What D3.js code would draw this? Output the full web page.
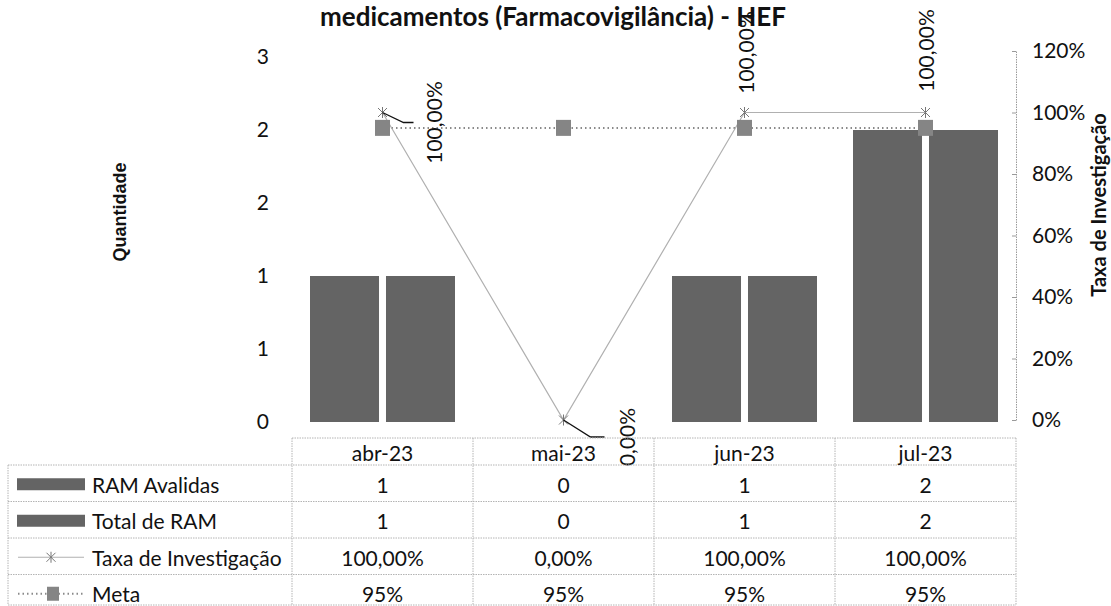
<!DOCTYPE html>
<html>
<head>
<meta charset="utf-8">
<script src="https://cdn.jsdelivr.net/npm/d3@7"></script>
<style>
  html, body { margin: 0; padding: 0; background: #fff; }
  svg { display: block; }
</style>
</head>
<body>
<svg id="chart" width="1111" height="606"></svg>
<script>
// ---------------- DATA ----------------
const categories = ["abr-23", "mai-23", "jun-23", "jul-23"];
const ramAvaliadas = [1, 0, 1, 2];
const totalRam = [1, 0, 1, 2];
const taxaInvestigacao = [1.0, 0.0, 1.0, 1.0];
const meta = [0.95, 0.95, 0.95, 0.95];
const seriesNames = ["RAM Avalidas", "Total de RAM", "Taxa de Investigação", "Meta"];
const leftTickValues = [0, 0.5, 1, 1.5, 2, 2.5];
const leftTickLabels = ["0", "1", "1", "2", "2", "3"];
const rightTickValues = [0, 0.2, 0.4, 0.6, 0.8, 1.0, 1.2];
const rightTickLabels = ["0%", "20%", "40%", "60%", "80%", "100%", "120%"];
const titleText = "medicamentos (Farmacovigilância) - HEF";
const leftAxisTitle = "Quantidade";
const rightAxisTitle = "Taxa de Investigação";

// ---------------- LAYOUT ----------------
const svg = d3.select("#chart");
const FONT = "Lato, 'Open Sans', sans-serif";
const FS = 21;
const plotLeft = 292, plotRight = 1016;
const barColor = "#646464";
const markerColor = "#858585";

const x0 = d3.scaleBand().domain(categories).range([plotLeft, plotRight]).padding(0);
const x1 = d3.scaleBand().domain([0, 1]).range([0, x0.bandwidth()])
  .paddingInner(0.092).paddingOuter(0.237);
const yL = d3.scaleLinear().domain([0, 2.5]).range([422, 57]);
const yR = d3.scaleLinear().domain([0, 1.2]).range([420, 51]);
const cx = c => x0(c) + x0.bandwidth() / 2;

// Title
svg.append("text").attr("x", 553).attr("y", 26)
  .attr("text-anchor", "middle").attr("font-family", FONT)
  .attr("font-weight", "bold").attr("font-size", 26).attr("fill", "#111")
  .text(titleText);

// Left axis (labels only)
const leftAxis = d3.axisLeft(yL).tickValues(leftTickValues)
  .tickFormat((d, i) => leftTickLabels[i]).tickSize(0).tickPadding(0);
const gL = svg.append("g").attr("transform", "translate(269,0)").call(leftAxis);
gL.select(".domain").remove();
gL.selectAll("text").attr("font-family", FONT).attr("font-size", FS).attr("fill", "#111");

// Right axis
const rightAxis = d3.axisRight(yR).tickValues(rightTickValues)
  .tickFormat((d, i) => rightTickLabels[i]).tickSizeInner(-4).tickSizeOuter(0).tickPadding(16);
const gR = svg.append("g").attr("transform", `translate(${plotRight},0)`).call(rightAxis);
gR.select(".domain").attr("stroke", "#9a9a9a").attr("stroke-dasharray", "1.5,1");
gR.selectAll(".tick line").attr("stroke", "#9a9a9a");
gR.selectAll("text").attr("font-family", FONT).attr("font-size", FS).attr("fill", "#111");

// Axis titles
svg.append("text").attr("transform", "translate(120,212) rotate(-90)")
  .attr("text-anchor", "middle").attr("dominant-baseline", "central")
  .attr("font-family", "'Liberation Sans', Arial, sans-serif").attr("font-weight", "bold")
  .attr("font-size", 18).attr("fill", "#111").text(leftAxisTitle);
svg.append("text").attr("transform", "translate(1098,205) rotate(-90)")
  .attr("text-anchor", "middle").attr("dominant-baseline", "central")
  .attr("font-family", FONT).attr("font-weight", "bold")
  .attr("font-size", 20).attr("fill", "#111").text(rightAxisTitle);

// Bars
const barSeries = [ramAvaliadas, totalRam];
barSeries.forEach((vals, si) => {
  svg.append("g").selectAll("rect").data(categories).join("rect")
    .attr("x", c => x0(c) + x1(si))
    .attr("width", x1.bandwidth())
    .attr("y", (c, i) => yL(vals[i]))
    .attr("height", (c, i) => yL(0) - yL(vals[i]))
    .attr("fill", barColor);
});

// Meta line (dotted)
const lineMeta = d3.line().x((d, i) => cx(categories[i])).y(d => yR(d));
svg.append("path").datum(meta).attr("d", lineMeta)
  .attr("fill", "none").attr("stroke", "#8a8a8a").attr("stroke-width", 2)
  .attr("stroke-dasharray", "1.5,3");

// Taxa line
const lineTaxa = d3.line().x((d, i) => cx(categories[i])).y(d => yR(d));
svg.append("path").datum(taxaInvestigacao).attr("d", lineTaxa)
  .attr("fill", "none").attr("stroke", "#b0b0b0").attr("stroke-width", 1.2);

// Meta markers
svg.append("g").selectAll("rect").data(meta).join("rect")
  .attr("x", (d, i) => cx(categories[i]) - 7.5)
  .attr("y", d => yR(d) - 8)
  .attr("width", 15).attr("height", 16)
  .attr("fill", markerColor);

// Taxa markers (asterisk)
function asterisk(g, x, y, r) {
  g.append("line").attr("x1", x - r).attr("y1", y - r).attr("x2", x + r).attr("y2", y + r);
  g.append("line").attr("x1", x - r).attr("y1", y + r).attr("x2", x + r).attr("y2", y - r);
  g.append("line").attr("x1", x).attr("y1", y - r - 1).attr("x2", x).attr("y2", y + r + 1);
}
const gT = svg.append("g").attr("stroke", "#777").attr("stroke-width", 1);
taxaInvestigacao.forEach((d, i) => asterisk(gT, cx(categories[i]), yR(d), 4.5));

// Data labels for Taxa
const fmtPct = v => (v * 100).toFixed(2).replace(".", ",") + "%";
const labelOffsets = [[51, 10], [63, 17], [1, -60], [0, -62]];
const leaders = [[[0, 0], [21, 10], [31, 10]], [[0, 0], [27, 17], [41, 17]], null, null];
taxaInvestigacao.forEach((d, i) => {
  const px = cx(categories[i]), py = yR(d);
  const [dx, dy] = labelOffsets[i];
  svg.append("text").attr("transform", `translate(${px + dx},${py + dy}) rotate(-90)`)
    .attr("text-anchor", "middle").attr("dominant-baseline", "central")
    .attr("font-family", FONT).attr("font-size", FS).attr("fill", "#111")
    .text(fmtPct(d));
  if (leaders[i]) {
    svg.append("path")
      .attr("d", d3.line()(leaders[i].map(p => [px + p[0], py + p[1]])))
      .attr("fill", "none").attr("stroke", "#111").attr("stroke-width", 1.3);
  }
});

// ---------------- DATA TABLE ----------------
const tableTop = 438, headerH = 27, rowH = 36.5, tableBottom = 605;
const legendLeft = 8;
const rowTops = d3.range(5).map(i => tableTop + headerH + i * rowH);
const border = { stroke: "#b4b4b4", dash: "1.5,1" };
const gTab = svg.append("g");
function hline(x1_, x2_, y) {
  gTab.append("line").attr("x1", x1_).attr("x2", x2_).attr("y1", y).attr("y2", y)
    .attr("stroke", border.stroke).attr("stroke-dasharray", border.dash);
}
function vline(x, y1_, y2_) {
  gTab.append("line").attr("x1", x).attr("x2", x).attr("y1", y1_).attr("y2", y2_)
    .attr("stroke", border.stroke).attr("stroke-dasharray", border.dash);
}
hline(plotLeft, plotRight, tableTop);
rowTops.slice(0, 4).forEach(y => hline(legendLeft, plotRight, y));
hline(legendLeft, plotRight, tableBottom);
vline(legendLeft, rowTops[0], tableBottom);
categories.forEach(c => vline(x0(c), tableTop, tableBottom));
vline(plotRight, tableTop, tableBottom);

// Header
svg.append("g").selectAll("text").data(categories).join("text")
  .attr("x", c => cx(c)).attr("y", tableTop + headerH / 2 + 1)
  .attr("text-anchor", "middle").attr("dominant-baseline", "central")
  .attr("font-family", FONT).attr("font-size", FS).attr("fill", "#111")
  .text(c => c);

const rowValues = [
  ramAvaliadas.map(v => String(v)),
  totalRam.map(v => String(v)),
  taxaInvestigacao.map(fmtPct),
  meta.map(v => Math.round(v * 100) + "%")
];
rowValues.forEach((vals, r) => {
  const yc = Math.min(rowTops[r] + rowH / 2, (rowTops[r] + tableBottom) / 2 + 3) + 1;
  svg.append("g").selectAll("text").data(vals).join("text")
    .attr("x", (v, i) => cx(categories[i])).attr("y", yc)
    .attr("text-anchor", "middle").attr("dominant-baseline", "central")
    .attr("font-family", FONT).attr("font-size", FS).attr("fill", "#111")
    .text(v => v);
  svg.append("text").attr("x", 92).attr("y", yc)
    .attr("dominant-baseline", "central")
    .attr("font-family", FONT).attr("font-size", FS).attr("fill", "#111")
    .text(seriesNames[r]);
  if (r < 2) {
    svg.append("rect").attr("x", 17).attr("y", yc - 6).attr("width", 68).attr("height", 12)
      .attr("fill", barColor);
  } else if (r === 2) {
    svg.append("line").attr("x1", 18).attr("x2", 84).attr("y1", yc).attr("y2", yc)
      .attr("stroke", "#b0b0b0").attr("stroke-width", 1.2);
    const gk = svg.append("g").attr("stroke", "#777").attr("stroke-width", 1);
    asterisk(gk, 51, yc, 4.5);
  } else {
    svg.append("line").attr("x1", 18).attr("x2", 84).attr("y1", yc).attr("y2", yc)
      .attr("stroke", "#8a8a8a").attr("stroke-width", 2).attr("stroke-dasharray", "1.5,3");
    svg.append("rect").attr("x", 47).attr("y", yc - 7).attr("width", 12).attr("height", 14)
      .attr("fill", markerColor);
  }
});
</script>
</body>
</html>
